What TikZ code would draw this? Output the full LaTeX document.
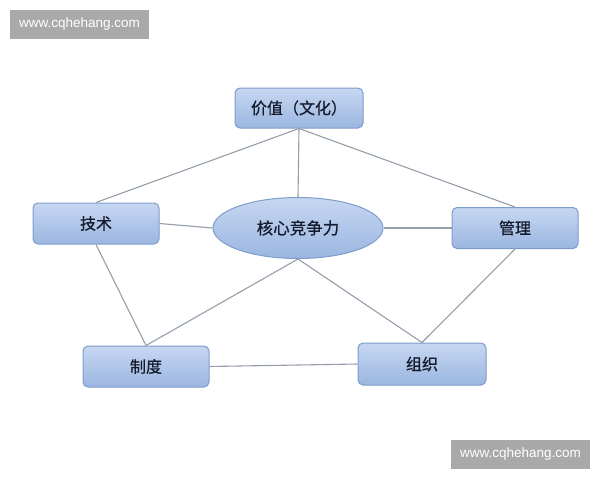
\documentclass[tikz,border=0pt]{standalone}
\usepackage{fontspec}
\newfontfamily\cjk[FakeBold=0.6]{Noto Sans CJK SC}
\newfontfamily\wm{Liberation Sans}
\usetikzlibrary{shapes.geometric}
\definecolor{boxtop}{HTML}{C6D7F1}
\definecolor{boxbot}{HTML}{9BB6E1}
\definecolor{boxline}{HTML}{7E9CCB}
\definecolor{linkc}{HTML}{959FAA}
\definecolor{txt}{HTML}{151A2C}
\definecolor{wmgray}{HTML}{A9A9A9}
\tikzset{
  box/.style={draw=boxline, line width=1pt, rounded corners=5pt, top color=boxtop, bottom color=boxbot,
    minimum width=126pt, minimum height=41pt, inner sep=0pt, font=\cjk\fontsize{16}{19}\selectfont, text=txt},
  core/.style={ellipse, draw=boxline, line width=1pt, top color=boxtop, bottom color=boxbot,
    minimum width=170pt, minimum height=61pt, inner sep=0pt, font=\cjk\fontsize{16.5}{19}\selectfont, text=txt},
  link/.style={draw=linkc, line width=1.1pt},
  wmark/.style={fill=wmgray, text=white, minimum width=139pt, minimum height=29pt, inner sep=0pt, font=\wm\fontsize{13.5}{15}\selectfont}
}
\begin{document}
\begin{tikzpicture}[x=1pt,y=-1pt]
\useasboundingbox[fill=white] (0,0) rectangle (600,480);
\node[wmark] (w1) at (79.5,24.5) {www.cqhehang.com};
\node[wmark] (w2) at (520.5,454.5) {www.cqhehang.com};
\node[box, minimum width=128pt, minimum height=40pt] (jz) at (299,108) {价值（文化）};
\node[core] (hx) at (298,228) {核心竞争力};
\node[box] (js) at (96,223.5) {技术};
\node[box] (gl) at (515,228) {管理};
\node[box] (zd) at (146,366.5) {制度};
\node[box, minimum width=128pt, minimum height=42pt] (zz) at (422,364) {组织};
\draw[link] (jz.south) -- (js.north);
\draw[link] (jz.south) -- (gl.north);
\draw[link] (jz.south) -- (hx.north);
\draw[link] (js.east) -- (hx.west);
\draw[link] (hx.east) -- (gl.west);
\draw[link] (js.south) -- (zd.north);
\draw[link] (hx.south) -- (zd.north);
\draw[link] (hx.south) -- (zz.north);
\draw[link] (gl.south) -- (zz.north);
\draw[link] (zd.east) -- (zz.west);
\end{tikzpicture}
\end{document}
